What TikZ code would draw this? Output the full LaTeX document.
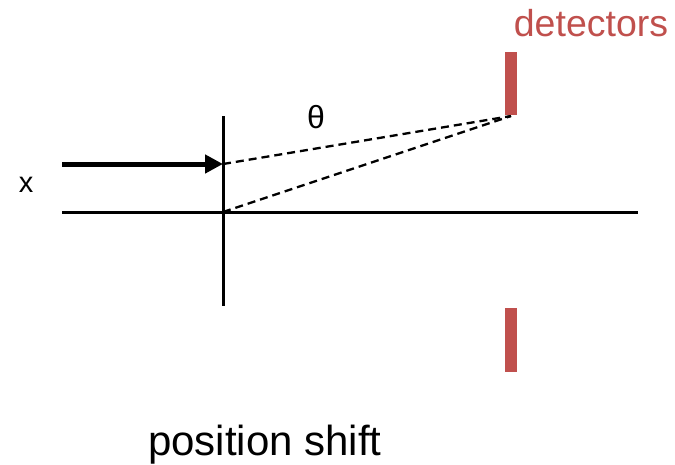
\documentclass[tikz,border=0pt]{standalone}
\usepackage{fontspec}
\setmainfont{Liberation Sans}
\usetikzlibrary{arrows.meta}
\definecolor{detred}{HTML}{C0504D}
\begin{document}
\begin{tikzpicture}[x=1pt,y=-1pt,
  axis/.style={line width=3pt},
  ray/.style={line width=2.3pt,dash pattern=on 8pt off 5pt},
  detbar/.style={fill=detred,draw=none,inner sep=0pt,minimum width=12pt},
  lbl/.style={inner sep=0pt,anchor=base}]
\useasboundingbox (0,0) rectangle (675,464);
\coordinate (vtop) at (223,116);
\coordinate (vbot) at (223,306);
\coordinate (hleft) at (62,212);
\coordinate (hright) at (638,212);
\coordinate (astart) at (62,164);
\coordinate (xpt) at (223,164);
\coordinate (origin) at (223,212);
\coordinate (dpt) at (511,116);
\draw[axis] (vtop) -- (vbot);
\draw[axis] (hleft) -- (hright);
\draw[line width=5pt,-{Triangle[length=18pt,width=18pt]}] (astart) -- (xpt);
\draw[ray] (xpt) -- (dpt);
\draw[ray] (origin) -- (dpt);
\node[detbar,minimum height=63pt] (det1) at (511,83.5) {};
\node[detbar,minimum height=64pt] (det2) at (511,340) {};
\node[lbl,font=\fontsize{37.5}{37.5}\selectfont,text=detred] (dlabel) at (591,36) {detectors};
\node[inner sep=0pt,font=\fontsize{32}{32}\selectfont] (theta) at (316,117) {θ};
\node[lbl,font=\fontsize{29}{29}\selectfont] (xlabel) at (26,192) {x};
\node[lbl,font=\fontsize{42}{42}\selectfont] (pshift) at (265,455) {position shift};
\end{tikzpicture}
\end{document}
